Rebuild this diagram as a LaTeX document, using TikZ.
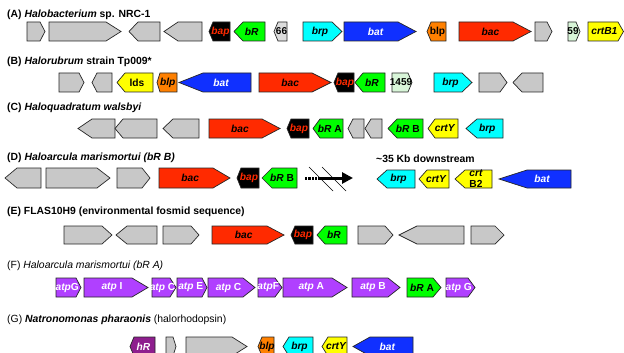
\documentclass[tikz,border=0pt]{standalone}
\usepackage{fontspec}
\setmainfont{Liberation Sans}
\usetikzlibrary{arrows.meta}

\definecolor{cgray}{HTML}{C8C8C8}
\definecolor{cltgray}{HTML}{DCDCDC}
\definecolor{cltgreen}{HTML}{D8F5D8}
\definecolor{cred}{HTML}{FF2A00}
\definecolor{cblue}{HTML}{1030FF}
\definecolor{ccyan}{HTML}{00FFFF}
\definecolor{cgreen}{HTML}{00FF00}
\definecolor{cyellow}{HTML}{FFFF00}
\definecolor{corange}{HTML}{FF8000}
\definecolor{cpurple}{HTML}{B040FF}
\definecolor{cplum}{HTML}{8E1E8E}

\tikzset{
  gene/.style={draw=black!85, line width=0.7pt, line join=miter},
  lbl/.style={font=\fontsize{10.2}{12}\selectfont\bfseries\itshape, inner sep=0pt, align=center},
  num/.style={font=\fontsize{10}{11}\selectfont\bfseries\upshape},
  ttl/.style={anchor=west, inner sep=0pt, font=\fontsize{10.4}{12}\selectfont\bfseries},
  wlbl/.style={text=white},
  rlbl/.style={text=cred},
}

\newcounter{gn}
% gene row: top and bottom edge
\newcommand{\setrow}[2]{\def\yt{#1}\def\yb{#2}\pgfmathsetmacro\ym{(#1+#2)/2}}
% right-pointing gene: fill, left x, tip start, tip x, label style, label
\newcommand{\geneR}[6]{%
  \stepcounter{gn}%
  \filldraw[gene,fill=#1] (#2,\yt) -- (#3,\yt) -- (#4,\ym) -- (#3,\yb) -- (#2,\yb) -- cycle;
  \node[lbl,#5] (gene-\arabic{gn}) at ({(#2+(#3+#4)/2)/2},\ym) {#6};}
% left-pointing gene: fill, tip x, tip end, right x, label style, label
\newcommand{\geneL}[6]{%
  \stepcounter{gn}%
  \filldraw[gene,fill=#1] (#4,\yt) -- (#3,\yt) -- (#2,\ym) -- (#3,\yb) -- (#4,\yb) -- cycle;
  \node[lbl,#5] (gene-\arabic{gn}) at ({(#4+(#2+#3)/2)/2},\ym) {#6};}

\begin{document}
\begin{tikzpicture}[x=1pt,y=-1pt]
\useasboundingbox (0,0) rectangle (624,353);
\clip (0,0) rectangle (624,353);

% ---------- (A)
\node[ttl] (tA) at (7,15) {(A) \textit{Halobacterium} sp. NRC-1};
\setrow{22}{41}
\geneR{cgray}{27}{40}{45}{}{}
\geneR{cgray}{49}{106}{121}{}{}
\geneL{cgray}{129}{138}{160}{}{}
\geneL{cgray}{164}{178}{202}{}{}
\geneL{black}{209}{213}{230}{rlbl}{bap}
\geneL{cgreen}{234}{243}{265}{}{bR}
\geneL{cltgray}{274}{278}{287}{num}{66}
\geneR{ccyan}{303}{332}{342}{}{brp}
\geneR{cblue}{344}{398}{416}{wlbl}{bat}
\geneL{corange}{427}{431}{446}{}{\upshape blp}
\geneR{cred}{459}{513}{531}{}{bac}
\geneR{cgray}{535}{547}{552}{}{}
\geneR{cltgreen}{568}{576}{580}{num}{59}
\geneR{cyellow}{588}{618}{623.5}{}{crtB1}

% ---------- (B)
\node[ttl] (tB) at (7,62) {(B) \textit{Halorubrum} strain Tp009*};
\setrow{73}{92}
\geneR{cgray}{59}{79}{84}{}{}
\geneL{cgray}{92}{97}{112}{}{}
\geneL{cyellow}{117}{125}{153}{}{\upshape lds}
\geneL{corange}{157}{160}{177}{}{blp}
\geneL{cblue}{179}{203}{251}{wlbl}{bat}
\geneR{cred}{259}{312}{331}{}{bac}
\geneL{black}{334}{338}{354}{rlbl}{bap}
\geneL{cgreen}{355}{363}{385}{}{bR}
\geneR{cltgreen}{392}{408}{412}{num}{1459}
\geneR{ccyan}{434}{462}{472}{}{brp}
\geneR{cgray}{479}{500}{507}{}{}
\geneL{cgray}{513}{522}{543}{}{}

% ---------- (C)
\node[ttl] (tC) at (7,108) {(C) \textit{Haloquadratum walsbyi}};
\setrow{119}{138}
\geneL{cgray}{78}{92}{115}{}{}
\geneL{cgray}{115}{123}{157}{}{}
\geneL{cgray}{163}{173}{199}{}{}
\geneR{cred}{209}{262}{280}{}{bac}
\geneL{black}{287}{291}{309}{rlbl}{bap}
\geneL{cgreen}{313}{320}{343}{}{bR \upshape A}
\geneL{cgray}{348}{353}{364}{}{}
\geneL{cgray}{365}{371}{382}{}{}
\geneL{cgreen}{388}{397}{423}{}{bR \upshape B}
\geneL{cyellow}{428}{435}{458}{}{crtY}
\geneL{ccyan}{466}{477}{503}{}{brp}

% ---------- (D)
\node[ttl] (tD) at (7,158) {(D) \textit{Haloarcula marismortui (bR B)}};
\setrow{168}{188}
\geneL{cgray}{5}{17}{41}{}{}
\geneR{cgray}{46}{97}{110}{}{}
\geneR{cgray}{117}{142}{150}{}{}
\geneR{cred}{159}{213}{230}{}{bac}
\geneL{black}{237}{241}{259}{rlbl}{bap}
\geneL{cgreen}{262}{272}{297}{}{bR \upshape B}
% break in the sequence
\coordinate (brkS) at (305,178);
\coordinate (brkM) at (318,178);
\coordinate (brkE) at (353,178);
\draw[line width=3pt, dash pattern=on 2.2pt off 1.2pt] (brkS) -- (brkM);
\draw[line width=3pt, -{Triangle[length=11pt,width=11pt]}] (brkM) -- (brkE);
\draw[line width=0.7pt] (309,167) -- (333,191);
\draw[line width=0.7pt] (322,167) -- (346,191);
\node[ttl] (kb) at (376,159) {\textasciitilde35 Kb downstream};
\setrow{170}{188}
\geneL{ccyan}{377}{387}{415}{}{brp}
\geneL{cyellow}{419}{427}{449}{}{crtY}
\geneL{cyellow}{455}{465}{492}{}{crt\\[-1pt]\upshape B2}
\geneL{cblue}{499}{527}{571}{wlbl}{bat}

% ---------- (E)
\node[ttl] (tE) at (7,212) {(E) FLAS10H9 (environmental fosmid sequence)};
\setrow{226}{244}
\geneR{cgray}{64}{102}{112}{}{}
\geneL{cgray}{116}{127}{157}{}{}
\geneR{cgray}{163}{191}{199}{}{}
\geneR{cred}{212}{267}{284}{}{bac}
\geneL{black}{291}{295}{313}{rlbl}{bap}
\geneL{cgreen}{317}{325}{347}{}{bR}
\geneR{cgray}{358}{385}{393}{}{}
\geneL{cgray}{399}{417}{464}{}{}
\geneR{cgray}{471}{495}{504}{}{}

% ---------- (F)
\node[ttl,font=\fontsize{10.4}{12}\selectfont] (tF) at (7,266) {(F) \textit{Haloarcula marismortui (bR A)}};
\setrow{278}{297}
\geneR{cpurple}{56}{76}{81}{wlbl}{atp\upshape G}
\geneR{cpurple}{84}{132}{148}{wlbl}{atp \upshape I}
\geneR{cpurple}{152}{170}{176}{wlbl}{atp \upshape C}
\geneR{cpurple}{177}{202}{207}{wlbl}{atp \upshape E}
\geneR{cpurple}{208}{243}{255}{wlbl}{atp \upshape C}
\geneR{cpurple}{258}{275}{282}{wlbl}{atp\upshape F}
\geneR{cpurple}{283}{332}{347}{wlbl}{atp \upshape A}
\geneR{cpurple}{352}{388}{400}{wlbl}{atp \upshape B}
\geneR{cgreen}{407}{433}{441}{}{bR \upshape A}
\geneR{cpurple}{446}{468}{475}{wlbl}{atp \upshape G}

% ---------- (G)
\node[ttl,font=\fontsize{10.4}{12}\selectfont] (tG) at (7,320) {(G) \textit{\bfseries Natronomonas pharaonis} (halorhodopsin)};
\setrow{337}{356}
\geneL{cplum}{130}{134}{155}{wlbl}{hR}
\geneR{cgray}{166}{173}{176}{}{}
\geneR{cgray}{186}{232}{247}{}{}
\geneL{corange}{258}{262}{274}{}{blp}
\geneL{ccyan}{283}{289}{313}{}{brp}
\geneL{cyellow}{322}{328}{347}{}{crtY}
\geneL{cblue}{353}{370}{413}{wlbl}{bat}
\end{tikzpicture}
\end{document}
